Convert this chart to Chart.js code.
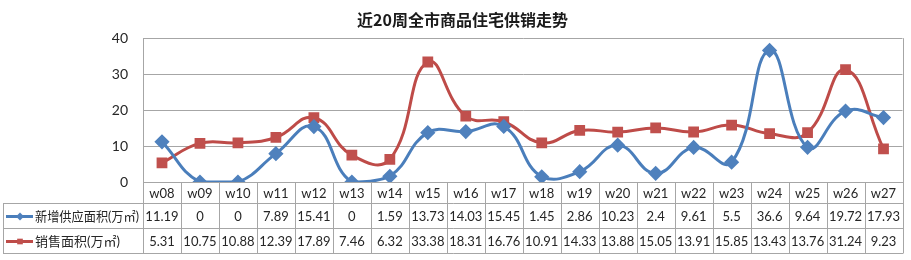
<!DOCTYPE html>
<html><head><meta charset="utf-8">
<script src="https://cdn.jsdelivr.net/npm/chart.js@4"></script>
<style>html,body{margin:0;padding:0;background:#fff;overflow:hidden}</style>
</head>
<body>
<canvas id="c" width="911" height="260"></canvas>
<script>
const titleText = '近20周全市商品住宅供销走势';
const categories = ['w08','w09','w10','w11','w12','w13','w14','w15','w16','w17','w18','w19','w20','w21','w22','w23','w24','w25','w26','w27'];
const supplyLabel = '新增供应面积(万㎡)';
const salesLabel = '销售面积(万㎡)';
const supply = [11.19,0,0,7.89,15.41,0,1.59,13.73,14.03,15.45,1.45,2.86,10.23,2.4,9.61,5.5,36.6,9.64,19.72,17.93];
const sales = [5.31,10.75,10.88,12.39,17.89,7.46,6.32,33.38,18.31,16.76,10.91,14.33,13.88,15.05,13.91,15.85,13.43,13.76,31.24,9.23];
const yTicks = [0,10,20,30,40];

const BLUE = '#4a7ebb', BLUE_PT = '#4f81bd';
const RED = '#be4b48', RED_PT = '#c0504d';
const GRID = '#a6a6a6';
const TXT = '#262626';
const FONT = "Lato, 'Noto Sans CJK SC', sans-serif";

const tablePlugin = {
  id: 'dataTable',
  afterDraw(chart) {
    const ctx = chart.ctx;
    const ca = chart.chartArea;
    const xs = chart.scales.x;
    const n = categories.length;
    const colW = (ca.right - ca.left) / n;
    const top = ca.bottom;
    const hdrB = top + 21, r1B = hdrB + 25, r2B = r1B + 25;
    const legL = 3;
    ctx.save();
    ctx.strokeStyle = GRID; ctx.lineWidth = 1;
    ctx.beginPath();
    ctx.moveTo(Math.round(ca.right) + 0.5, ca.top); ctx.lineTo(Math.round(ca.right) + 0.5, ca.bottom);
    ctx.stroke();
    ctx.beginPath();
    const hl = (x1, x2, y) => { ctx.moveTo(x1, Math.round(y) + 0.5); ctx.lineTo(x2, Math.round(y) + 0.5); };
    const vl = (x, y1, y2) => { ctx.moveTo(Math.round(x) + 0.5, y1); ctx.lineTo(Math.round(x) + 0.5, y2); };
    hl(ca.left, ca.right + 1, top);
    hl(legL, ca.right + 1, hdrB);
    hl(legL, ca.right + 1, r1B);
    hl(legL, ca.right + 1, r2B);
    vl(legL, hdrB, r2B);
    for (let i = 0; i <= n; i++) vl(ca.left + i * colW, top, r2B);
    ctx.stroke();
    ctx.fillStyle = TXT;
    ctx.textAlign = 'center'; ctx.textBaseline = 'middle';
    ctx.font = '13px ' + FONT;
    const yH = (top + hdrB) / 2 + 1, y1 = (hdrB + r1B) / 2 + 1, y2 = (r1B + r2B) / 2 + 1;
    categories.forEach((c, i) => {
      const x = xs.getPixelForValue(i);
      ctx.fillText(c, x, yH);
      ctx.fillText(String(supply[i]), x, y1);
      ctx.fillText(String(sales[i]), x, y2);
    });
    const keys = [[supplyLabel, BLUE, BLUE_PT, 'rectRot', y1], [salesLabel, RED, RED_PT, 'rect', y2]];
    keys.forEach(([lab, lc, pc, st, y]) => {
      ctx.strokeStyle = lc; ctx.lineWidth = 3;
      ctx.beginPath(); ctx.moveTo(6, y); ctx.lineTo(33, y); ctx.stroke();
      ctx.fillStyle = pc;
      Chart.helpers.drawPoint(ctx, {pointStyle: st, radius: 4, borderWidth: 0}, 20, y);
      ctx.fillStyle = TXT;
      ctx.textAlign = 'left';
      ctx.font = '13px ' + FONT;
      ctx.fillText(lab, 35, y, ca.left - 39);
    });
    ctx.restore();
  }
};

new Chart(document.getElementById('c'), {
  type: 'line',
  data: {
    labels: categories,
    datasets: [
      { label: supplyLabel, data: supply, borderColor: BLUE, backgroundColor: BLUE_PT,
        pointBackgroundColor: BLUE_PT, pointBorderColor: BLUE_PT, pointStyle: 'rectRot',
        pointRadius: 5.5, borderWidth: 3, tension: 0.45, fill: false },
      { label: salesLabel, data: sales, borderColor: RED, backgroundColor: RED_PT,
        pointBackgroundColor: RED_PT, pointBorderColor: RED_PT, pointStyle: 'rect',
        pointRadius: 5.5, borderWidth: 3, tension: 0.45, fill: false }
    ]
  },
  options: {
    responsive: false,
    animation: false,
    devicePixelRatio: 1,
    layout: { padding: { left: 20, right: 6, top: 0, bottom: 78 } },
    plugins: {
      legend: { display: false },
      tooltip: { enabled: false },
      title: { display: true, text: titleText, color: '#1a1a1a',
        font: { family: "'Noto Sans CJK SC', sans-serif", size: 16, weight: 'bold', lineHeight: 1.2 },
        padding: { top: 10, bottom: 9 } }
    },
    scales: {
      x: { display: false, offset: true },
      y: {
        min: 0, max: 40,
        afterBuildTicks: (s) => { s.ticks = yTicks.map(v => ({ value: v })); },
        afterFit: (s) => { s.width = 123; },
        ticks: { padding: 15, color: TXT, font: { family: FONT, size: 14 } },
        grid: { color: GRID, drawTicks: false, lineWidth: 1 },
        border: { color: GRID }
      }
    }
  },
  plugins: [tablePlugin]
});
</script>
</body></html>
